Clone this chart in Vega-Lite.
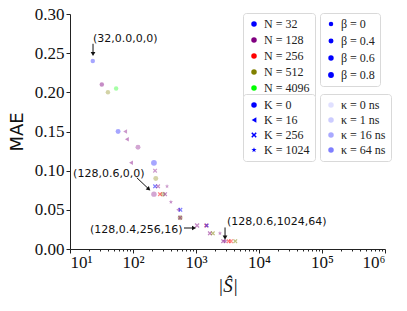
{
  "$schema": "https://vega.github.io/schema/vega-lite/v6.json",
  "width": 315,
  "height": 235,
  "autosize": "none",
  "padding": {"left": 70, "top": 14, "right": 22, "bottom": 62},
  "config": {
    "view": {"stroke": null},
    "axis": {"grid": false, "domainColor": "#222", "tickColor": "#222", "labelColor": "#111", "titleColor": "#111", "labelFont": "Liberation Serif", "labelFontSize": 17, "titleFontWeight": "normal", "labelOverlap": false},
    "legend": {"orient": "none", "strokeColor": "#d9d9d9", "fillColor": "white", "cornerRadius": 3, "padding": 5, "labelFont": "Liberation Serif", "labelFontSize": 12, "labelColor": "#222", "title": null}
  },
  "datasets": {
    "pts": [
      {"S": 23, "MAE": 0.24, "N": "N = 32", "beta": "β = 0", "K": "K = 0", "kappa": "κ = 0 ns"},
      {"S": 32, "MAE": 0.21, "N": "N = 128", "beta": "β = 0", "K": "K = 0", "kappa": "κ = 16 ns"},
      {"S": 40, "MAE": 0.20, "N": "N = 512", "beta": "β = 0", "K": "K = 0", "kappa": "κ = 0 ns"},
      {"S": 54, "MAE": 0.205, "N": "N = 4096", "beta": "β = 0", "K": "K = 0", "kappa": "κ = 0 ns"},
      {"S": 58, "MAE": 0.15, "N": "N = 32", "beta": "β = 0.4", "K": "K = 0", "kappa": "κ = 0 ns"},
      {"S": 75, "MAE": 0.15, "N": "N = 128", "beta": "β = 0", "K": "K = 16", "kappa": "κ = 1 ns"},
      {"S": 80, "MAE": 0.14, "N": "N = 128", "beta": "β = 0", "K": "K = 16", "kappa": "κ = 16 ns"},
      {"S": 120, "MAE": 0.13, "N": "N = 128", "beta": "β = 0.4", "K": "K = 0", "kappa": "κ = 0 ns"},
      {"S": 93, "MAE": 0.11, "N": "N = 128", "beta": "β = 0", "K": "K = 16", "kappa": "κ = 16 ns"},
      {"S": 215, "MAE": 0.11, "N": "N = 32", "beta": "β = 0.8", "K": "K = 0", "kappa": "κ = 0 ns"},
      {"S": 224, "MAE": 0.10, "N": "N = 128", "beta": "β = 0", "K": "K = 256", "kappa": "κ = 1 ns"},
      {"S": 230, "MAE": 0.09, "N": "N = 512", "beta": "β = 0.4", "K": "K = 0", "kappa": "κ = 0 ns"},
      {"S": 224, "MAE": 0.08, "N": "N = 32", "beta": "β = 0", "K": "K = 256", "kappa": "κ = 64 ns"},
      {"S": 250, "MAE": 0.08, "N": "N = 128", "beta": "β = 0", "K": "K = 256", "kappa": "κ = 16 ns"},
      {"S": 347, "MAE": 0.08, "N": "N = 128", "beta": "β = 0", "K": "K = 1024", "kappa": "κ = 1 ns"},
      {"S": 300, "MAE": 0.07, "N": "N = 512", "beta": "β = 0.4", "K": "K = 0", "kappa": "κ = 0 ns"},
      {"S": 215, "MAE": 0.07, "N": "N = 128", "beta": "β = 0.6", "K": "K = 0", "kappa": "κ = 0 ns"},
      {"S": 268, "MAE": 0.07, "N": "N = 256", "beta": "β = 0", "K": "K = 256", "kappa": "κ = 64 ns"},
      {"S": 323, "MAE": 0.07, "N": "N = 128", "beta": "β = 0", "K": "K = 256", "kappa": "κ = 16 ns"},
      {"S": 400, "MAE": 0.06, "N": "N = 128", "beta": "β = 0", "K": "K = 1024", "kappa": "κ = 16 ns"},
      {"S": 520, "MAE": 0.05, "N": "N = 128", "beta": "β = 0", "K": "K = 16", "kappa": "κ = 16 ns"},
      {"S": 565, "MAE": 0.05, "N": "N = 32", "beta": "β = 0", "K": "K = 256", "kappa": "κ = 64 ns"},
      {"S": 560, "MAE": 0.04, "N": "N = 512", "beta": "β = 0.4", "K": "K = 0", "kappa": "κ = 16 ns"},
      {"S": 560, "MAE": 0.04, "N": "N = 128", "beta": "β = 0", "K": "K = 256", "kappa": "κ = 64 ns"},
      {"S": 1040, "MAE": 0.03, "N": "N = 128", "beta": "β = 0.4", "K": "K = 256", "kappa": "κ = 16 ns"},
      {"S": 1450, "MAE": 0.03, "N": "N = 256", "beta": "β = 0", "K": "K = 256", "kappa": "κ = 64 ns"},
      {"S": 1480, "MAE": 0.03, "N": "N = 32", "beta": "β = 0", "K": "K = 256", "kappa": "κ = 64 ns"},
      {"S": 1660, "MAE": 0.02, "N": "N = 128", "beta": "β = 0", "K": "K = 256", "kappa": "κ = 64 ns"},
      {"S": 1850, "MAE": 0.02, "N": "N = 512", "beta": "β = 0", "K": "K = 256", "kappa": "κ = 64 ns"},
      {"S": 2400, "MAE": 0.02, "N": "N = 128", "beta": "β = 0", "K": "K = 1024", "kappa": "κ = 16 ns"},
      {"S": 2700, "MAE": 0.01, "N": "N = 128", "beta": "β = 0", "K": "K = 256", "kappa": "κ = 64 ns"},
      {"S": 2900, "MAE": 0.01, "N": "N = 128", "beta": "β = 0.6", "K": "K = 1024", "kappa": "κ = 64 ns"},
      {"S": 3300, "MAE": 0.01, "N": "N = 256", "beta": "β = 0", "K": "K = 256", "kappa": "κ = 64 ns"},
      {"S": 3600, "MAE": 0.01, "N": "N = 256", "beta": "β = 0", "K": "K = 256", "kappa": "κ = 16 ns"},
      {"S": 4200, "MAE": 0.01, "N": "N = 512", "beta": "β = 0", "K": "K = 256", "kappa": "κ = 64 ns"}
    ],
    "notes": [
      {"label": "(32,0.0,0,0)", "S": 23.2, "MAE": 0.268},
      {"label": "(128,0.6,0,0)", "S": 11.2, "MAE": 0.096},
      {"label": "(128,0.4,256,16)", "S": 20.8, "MAE": 0.0245},
      {"label": "(128,0.6,1024,64)", "S": 3100, "MAE": 0.034}
    ],
    "arrows": [
      {"S": 23.2, "MAE": 0.262, "S2": 23.2, "MAE2": 0.249},
      {"S": 115, "MAE": 0.091, "S2": 178, "MAE2": 0.0765},
      {"S": 645, "MAE": 0.0268, "S2": 930, "MAE2": 0.0268},
      {"S": 2890, "MAE": 0.0275, "S2": 2890, "MAE2": 0.0145}
    ],
    "heads": [
      {"S": 23.2, "MAE": 0.249, "dir": "down"},
      {"S": 178, "MAE": 0.0765, "dir": "diag"},
      {"S": 930, "MAE": 0.0268, "dir": "right"},
      {"S": 2890, "MAE": 0.0145, "dir": "down"}
    ]
  },
  "encoding": {
    "x": {"field": "S", "type": "quantitative",
      "scale": {"type": "log", "domain": [10, 1000000]},
      "axis": {"values": [10,20,30,40,50,60,70,80,90,100,200,300,400,500,600,700,800,900,1000,2000,3000,4000,5000,6000,7000,8000,9000,10000,20000,30000,40000,50000,60000,70000,80000,90000,100000,200000,300000,400000,500000,600000,700000,800000,900000,1000000],
        "tickSize": {"condition": {"test": "indexof([10,100,1000,10000,100000,1000000], datum.value) >= 0", "value": 4}, "value": 2},
        "labelPadding": 1, "orient": "bottom", "labelOverlap": false,
        "labelExpr": "datum.value == 10 ? '10¹' : datum.value == 100 ? '10²' : datum.value == 1000 ? '10³' : datum.value == 10000 ? '10⁴' : datum.value == 100000 ? '10⁵' : datum.value == 1000000 ? '10⁶' : ''",
        "title": "|Ŝ|", "titleFont": "Liberation Serif", "titleFontSize": 19, "titleFontStyle": "italic", "titlePadding": 6}},
    "y": {"field": "MAE", "type": "quantitative",
      "scale": {"domain": [0, 0.3]},
      "axis": {"values": [0, 0.05, 0.1, 0.15, 0.2, 0.25, 0.3], "format": ".2f", "tickSize": 4, "labelPadding": 2, "labelOverlap": false,
        "title": "MAE", "titleFont": "DejaVu Sans", "titleFontSize": 18, "titlePadding": 8}}
  },
  "layer": [
    {
      "data": {"name": "pts"},
      "mark": {"type": "point", "filled": true, "strokeWidth": 0, "opacity": 1},
      "encoding": {
        "color": {"field": "N", "type": "nominal",
          "scale": {"domain": ["N = 32", "N = 128", "N = 256", "N = 512", "N = 4096"], "range": ["#0000ff", "#800080", "#ff0000", "#808000", "#00ff00"]},
          "legend": {"legendX": 173, "legendY": -1, "symbolSize": 30, "symbolType": "circle", "rowPadding": 4, "symbolOpacity": 1}},
        "size": {"field": "beta", "type": "nominal",
          "scale": {"domain": ["β = 0", "β = 0.4", "β = 0.6", "β = 0.8"], "range": [20, 34, 46, 62]},
          "legend": {"legendX": 250, "legendY": -1, "symbolFillColor": "#0000ff", "symbolStrokeWidth": 0, "symbolOpacity": 1, "rowPadding": 5, "symbolType": "circle"}},
        "shape": {"field": "K", "type": "nominal",
          "scale": {"domain": ["K = 0", "K = 16", "K = 256", "K = 1024"],
            "range": ["circle", "triangle-left", "M-1,-0.6L-0.6,-1L0,-0.4L0.6,-1L1,-0.6L0.4,0L1,0.6L0.6,1L0,0.4L-0.6,1L-1,0.6L-0.4,0Z", "M0,-1L0.235,-0.324L0.951,-0.309L0.38,0.124L0.588,0.809L0,0.4L-0.588,0.809L-0.38,0.124L-0.951,-0.309L-0.235,-0.324Z"]},
          "legend": {"legendX": 173, "legendY": 80, "symbolSize": 30, "symbolFillColor": "#0000ff", "symbolStrokeWidth": 0, "symbolOpacity": 1, "rowPadding": 3}},
        "opacity": {"field": "kappa", "type": "nominal",
          "scale": {"domain": ["κ = 0 ns", "κ = 1 ns", "κ = 16 ns", "κ = 64 ns"], "range": [0.35, 0.5, 0.75, 1]},
          "legend": {"legendX": 250, "legendY": 80, "symbolSize": 30, "symbolType": "circle", "symbolFillColor": "#0000ff", "symbolStrokeWidth": 0, "rowPadding": 3,
            "encode": {"symbols": {"update": {
              "opacity": {"value": 1},
              "fillOpacity": {"value": 1},
              "fill": {"signal": "datum.value == 'κ = 0 ns' ? '#a6a6ff' : datum.value == 'κ = 1 ns' ? '#8080ff' : datum.value == 'κ = 16 ns' ? '#4040ff' : '#0000ff'"}
            }}}}}
      }
    },
    {
      "data": {"name": "notes"},
      "mark": {"type": "text", "align": "left", "baseline": "middle", "font": "DejaVu Sans", "fontSize": 11, "color": "#111"},
      "encoding": {
        "text": {"field": "label"}
      }
    },
    {
      "data": {"name": "arrows"},
      "mark": {"type": "rule", "color": "#111", "strokeWidth": 1},
      "encoding": {
        "x2": {"field": "S2"},
        "y2": {"field": "MAE2"}
      }
    },
    {
      "data": {"name": "heads"},
      "transform": [{"filter": "datum.dir == 'down'"}],
      "mark": {"type": "point", "shape": "triangle-down", "filled": true, "color": "#111", "size": 22, "opacity": 1},
      "encoding": {}
    },
    {
      "data": {"name": "heads"},
      "transform": [{"filter": "datum.dir == 'right'"}],
      "mark": {"type": "point", "shape": "triangle-right", "filled": true, "color": "#111", "size": 22, "opacity": 1},
      "encoding": {}
    },
    {
      "data": {"name": "heads"},
      "transform": [{"filter": "datum.dir == 'diag'"}],
      "mark": {"type": "point", "shape": "triangle-up", "angle": 133, "filled": true, "color": "#111", "size": 22, "opacity": 1},
      "encoding": {}
    }
  ]
}
